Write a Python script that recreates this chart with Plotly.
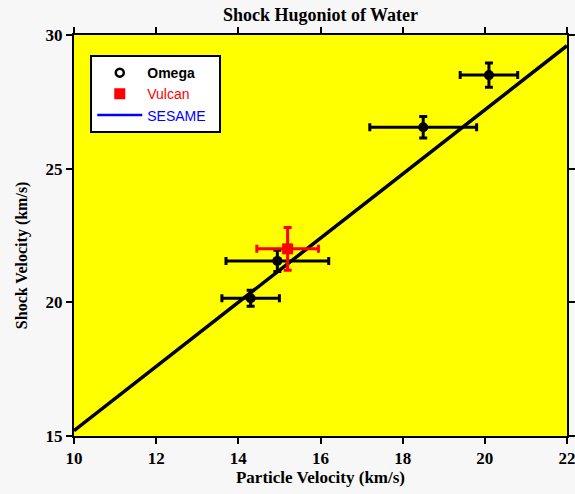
import plotly.graph_objects as go

# Omega data
omega_up = [14.3, 14.95, 18.5, 20.1]
omega_us = [20.15, 21.55, 26.55, 28.5]
omega_up_err = [0.7, 1.25, 1.3, 0.7]
omega_us_err = [0.3, 0.4, 0.4, 0.45]

# Vulcan data
vulcan_up = [15.2]
vulcan_us = [22.0]
vulcan_up_err = [0.75]
vulcan_us_err = [0.8]

# SESAME curve
sesame_up = [10, 14, 18, 22]
sesame_us = [15.2, 20.0, 24.8, 29.6]

x_ticks = [10, 12, 14, 16, 18, 20, 22]
y_ticks = [15, 20, 25, 30]

fig = go.Figure()

fig.add_trace(go.Scatter(
    x=sesame_up, y=sesame_us, mode="lines",
    line=dict(color="black", width=3.5), showlegend=False, hoverinfo="skip"))

fig.add_trace(go.Scatter(
    x=omega_up, y=omega_us, mode="markers",
    marker=dict(color="black", size=10, symbol="circle"),
    error_x=dict(type="data", array=omega_up_err, color="black", thickness=3, width=4),
    error_y=dict(type="data", array=omega_us_err, color="black", thickness=3, width=4),
    showlegend=False))

fig.add_trace(go.Scatter(
    x=vulcan_up, y=vulcan_us, mode="markers",
    marker=dict(color="red", size=11, symbol="square"),
    error_x=dict(type="data", array=vulcan_up_err, color="red", thickness=3, width=4),
    error_y=dict(type="data", array=vulcan_us_err, color="red", thickness=3, width=4),
    showlegend=False))

# legend entries
fig.add_trace(go.Scatter(x=[None], y=[None], mode="markers", name="<b>Omega</b>",
    marker=dict(color="black", size=8, symbol="circle-open", line=dict(width=2.5))))
fig.add_trace(go.Scatter(x=[None], y=[None], mode="markers",
    name="<span style='color:red'>Vulcan</span>",
    marker=dict(color="red", size=11, symbol="square")))
fig.add_trace(go.Scatter(x=[None], y=[None], mode="lines",
    name="<span style='color:blue'>SESAME</span>&nbsp;&nbsp;",
    line=dict(color="blue", width=2.5)))

axis_common = dict(
    showgrid=False, zeroline=False, showline=True, linecolor="black", linewidth=2,
    mirror="ticks", ticks="outside", ticklen=6, tickwidth=1.5, tickcolor="black",
    automargin=False, ticklabeloverflow="allow",
    tickfont=dict(family="Liberation Serif", size=17, color="black"),
)

fig.update_layout(
    width=575, height=494,
    margin=dict(l=74, r=8, t=35, b=58),
    paper_bgcolor="#f7f7f7", plot_bgcolor="#ffff00",
    title=dict(text="<b>Shock Hugoniot of Water</b>", xref="paper", x=0.5, xanchor="center",
               y=0.9696, yanchor="middle",
               font=dict(family="Liberation Serif", size=18, color="black")),
    xaxis=dict(range=[10, 22], tickvals=x_ticks, ticktext=[f"<b>{v}</b>" for v in x_ticks],
               title=dict(text="<b>Particle Velocity (km/s)</b>", standoff=2,
                          font=dict(family="Liberation Serif", size=17, color="black")),
               **axis_common),
    yaxis=dict(range=[15, 30], tickvals=y_ticks, ticktext=[f"<b>{v}</b>" for v in y_ticks],
               **axis_common),
    legend=dict(x=0.033, y=0.95, xanchor="left", yanchor="top",
                bgcolor="white", bordercolor="black", borderwidth=2,
                font=dict(family="Liberation Sans", size=14, color="black"),
                itemwidth=45, tracegroupgap=0),
    showlegend=True,
    annotations=[dict(text="<b>Shock Velocity (km/s)</b>", xref="paper", yref="paper",
                      x=-0.1055, y=0.451, xanchor="center", yanchor="middle",
                      textangle=-90, showarrow=False,
                      font=dict(family="Liberation Serif", size=16, color="black"))],
)

fig.write_html("out.html", config={"displayModeBar": False},
               post_script="document.body.style.margin='0';document.body.style.background='#f7f7f7';")
